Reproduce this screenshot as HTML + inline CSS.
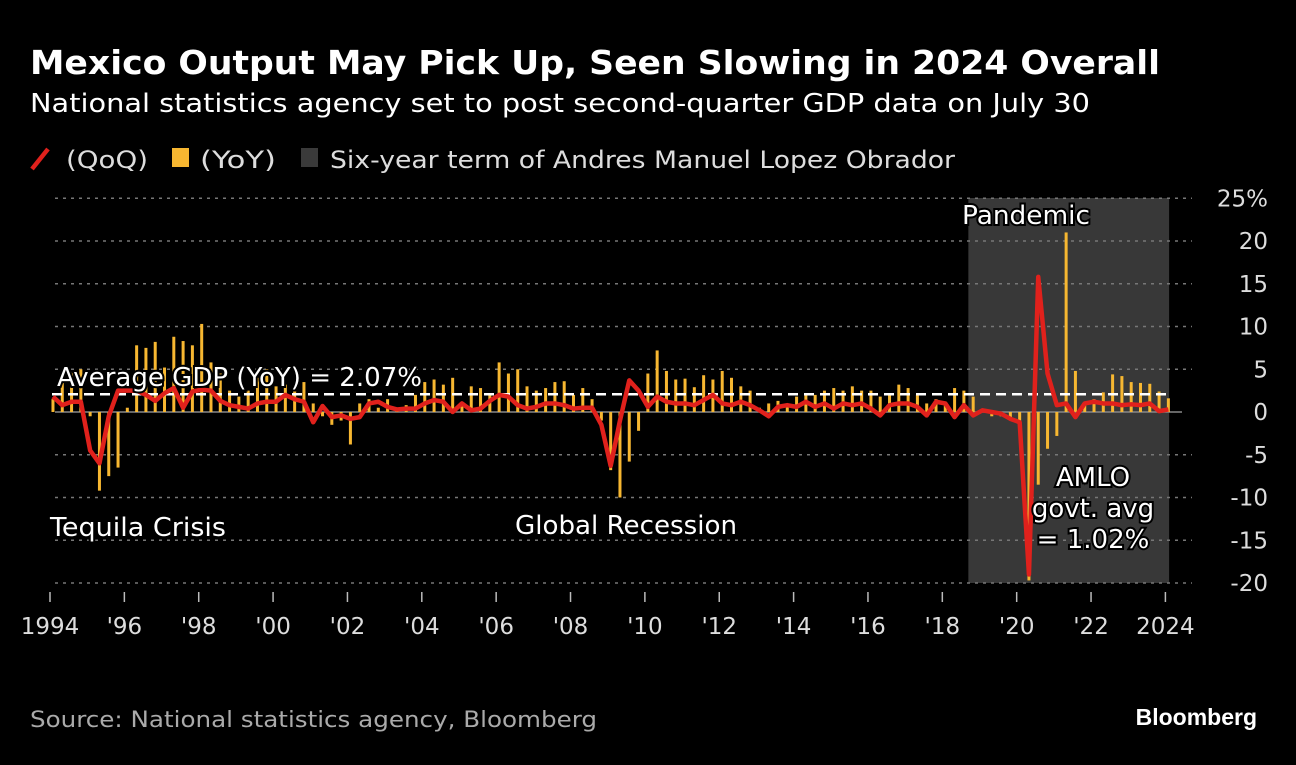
<!DOCTYPE html>
<html><head><meta charset="utf-8"><style>
body{margin:0;background:#000;width:1296px;height:760px;overflow:hidden;font-family:"Liberation Sans","DejaVu Sans",sans-serif;}
svg text{font-family:"DejaVu Sans","Liberation Sans",sans-serif;}
</style></head><body>
<svg id="chart" width="1296" height="760" viewBox="0 0 1296 760">
<rect width="1296" height="760" fill="#000"/>
<text x="30" y="74" fill="#fff" font-size="33" font-weight="bold" textLength="1130" lengthAdjust="spacingAndGlyphs">Mexico Output May Pick Up, Seen Slowing in 2024 Overall</text>
<text x="30" y="112" fill="#fff" font-size="26" textLength="1060" lengthAdjust="spacingAndGlyphs">National statistics agency set to post second-quarter GDP data on July 30</text>
<g font-size="24" fill="#ddd">
<line x1="32" y1="169" x2="48" y2="149" stroke="#e0211c" stroke-width="4.5"/>
<text x="66" y="168" textLength="82" lengthAdjust="spacingAndGlyphs">(QoQ)</text>
<rect x="172" y="148" width="17" height="19" fill="#f7b731"/>
<text x="200" y="168" textLength="76" lengthAdjust="spacingAndGlyphs">(YoY)</text>
<rect x="301" y="148" width="17" height="19" fill="#3a3a3a"/>
<text x="330" y="168" textLength="625" lengthAdjust="spacingAndGlyphs">Six-year term of Andres Manuel Lopez Obrador</text>
</g>
<g id="plot"></g>
<text x="30" y="727" fill="#aaa" font-size="22" textLength="567" lengthAdjust="spacingAndGlyphs">Source: National statistics agency, Bloomberg</text>
<text x="1257" y="725" fill="#fff" font-size="23" font-weight="bold" text-anchor="end" style="font-family:'Liberation Sans',sans-serif">Bloomberg</text>
</svg>
<script>
const yoy=[1.5,4.5,4.6,5.0,-0.5,-9.2,-7.5,-6.5,0.5,7.8,7.5,8.2,5.2,8.8,8.3,7.8,10.3,5.8,4.5,2.5,1.8,2.5,4.0,5.0,3.0,3.2,2.8,3.5,1.0,-0.5,-1.5,-1.0,-3.8,1.0,1.5,0.5,1.5,0.2,0.8,2.0,3.5,3.8,3.2,4.0,1.0,3.0,2.8,2.2,5.8,4.5,5.0,3.0,2.5,2.8,3.5,3.6,2.0,2.8,1.5,-1.0,-6.8,-10.0,-5.8,-2.2,4.5,7.2,4.8,3.8,3.9,2.9,4.3,3.8,4.8,4.0,3.0,2.5,0.5,1.0,1.3,1.0,1.8,2.0,2.0,2.5,2.8,2.5,3.0,2.5,2.5,1.8,2.0,3.2,2.8,2.0,1.0,1.5,1.2,2.8,2.5,1.8,0.3,-0.5,-0.5,-0.8,-1.2,-19.7,-8.5,-4.3,-2.8,21.0,4.8,1.0,1.5,2.3,4.4,4.2,3.5,3.4,3.3,2.4,1.6];
const qoq=[1.8,0.8,1.2,1.2,-4.5,-6.0,-0.5,2.5,2.5,2.5,2.0,1.3,2.2,2.8,0.5,2.4,2.6,2.5,1.3,0.8,0.6,0.4,1.0,1.2,1.2,2.0,1.5,1.2,-1.2,0.7,-0.6,-0.4,-0.8,-0.6,1.0,1.2,0.6,0.3,0.4,0.4,1.0,1.4,1.2,0.0,1.0,0.2,0.4,1.3,2.0,1.8,0.8,0.4,0.6,1.0,1.0,0.8,0.4,0.5,0.5,-1.5,-6.3,-1.0,3.7,2.5,0.6,1.8,1.2,1.0,1.0,0.8,1.4,2.0,1.0,0.8,1.2,0.8,0.2,-0.5,0.6,0.8,0.6,1.2,0.6,1.0,0.4,1.0,0.8,1.0,0.4,-0.4,0.8,1.0,1.0,0.6,-0.4,1.2,1.0,-0.6,0.8,-0.4,0.2,0.0,-0.2,-0.8,-1.2,-19.0,15.8,4.5,0.8,1.0,-0.6,1.0,1.2,1.0,1.0,0.8,0.9,0.8,1.0,0.1,0.3];
const yTicks=[25,20,15,10,5,0,-5,-10,-15,-20];
const yTickLabels=["25%","20","15","10","5","0","-5","-10","-15","-20"];
const xTicks=[1994,1996,1998,2000,2002,2004,2006,2008,2010,2012,2014,2016,2018,2020,2022,2024];
const xTickLabels=["1994","'96","'98","'00","'02","'04","'06","'08","'10","'12","'14","'16","'18","'20","'22","2024"];
const startYear=1994;
const avgYoY=2.07;
const termStart=2018.7, termEnd=2024.1;

const NS="http://www.w3.org/2000/svg";
const g=document.getElementById('plot');
const X=yr=>50+(yr-1994)*37.18;
const Y=v=>412-v*8.55;
const qx=i=>X(startYear+i*0.25+0.08);
function mk(t,a,p){const e=document.createElementNS(NS,t);for(const k in a)e.setAttribute(k,a[k]);(p||g).appendChild(e);return e;}

const sh=mk('rect',{x:X(termStart),y:198,width:X(termEnd)-X(termStart),height:Y(-20)-198,fill:'#383838'});



yTicks.forEach((v,i)=>{
  if(v!==0){const l=mk('line',{x1:55,x2:1192,y1:Y(v),y2:Y(v),stroke:'#777','stroke-width':1.5,'stroke-dasharray':'3 5'});
  
  }
  const t=mk('text',{x:1268,y:Y(v)+8,fill:'#ddd','font-size':23,'text-anchor':'end'});
  
  
  t.textContent=yTickLabels[i];
});
const z=mk('line',{x1:55,x2:1182,y1:Y(0),y2:Y(0),stroke:'#888','stroke-width':1.5});



xTicks.forEach((yr,i)=>{
  const tk=mk('line',{x1:X(yr),x2:X(yr),y1:592,y2:602,stroke:'#bbb','stroke-width':1.5});
  
  
  const t=mk('text',{x:X(yr),y:634,fill:'#ddd','font-size':23,'text-anchor':'middle'});
  
  
  t.textContent=xTickLabels[i];
});

yoy.forEach((v,i)=>{
  const b=mk('rect',{x:qx(i)-1.5,y:Math.min(Y(v),Y(0)),width:3,height:Math.abs(Y(v)-Y(0)),fill:'#f7b731'});
  
  
});

const av=mk('line',{x1:52,x2:1170,y1:Y(avgYoY),y2:Y(avgYoY),stroke:'#fff','stroke-width':2.5,'stroke-dasharray':'10 6'});



const ln=mk('polyline',{points:qoq.map((v,i)=>qx(i)+','+Y(v)).join(' '),fill:'none',stroke:'#e0211c','stroke-width':4.5,'stroke-linejoin':'round'});



function ann(txt,x,y,anchor,name,len){
  const t=mk('text',{x:x,y:y,fill:'#fff','font-size':26,'text-anchor':anchor,stroke:'#000','stroke-width':4,'paint-order':'stroke'});
  if(len){t.setAttribute('textLength',len);t.setAttribute('lengthAdjust','spacingAndGlyphs');}
  
  
  t.textContent=txt;
}
ann('Average GDP (YoY) = 2.07%',57,386,'start','average-annotation',365);
ann('Pandemic',1026,224,'middle','pandemic-annotation',128);
ann('Tequila Crisis',50,536,'start','tequila-crisis-annotation',176);
ann('Global Recession',515,534,'start','global-recession-annotation',222);
ann('AMLO',1093,486,'middle','amlo-annotation-line1');
ann('govt. avg',1093,517,'middle','amlo-annotation-line2');
ann('= 1.02%',1093,548,'middle','amlo-annotation-line3');
</script>
</body></html>
